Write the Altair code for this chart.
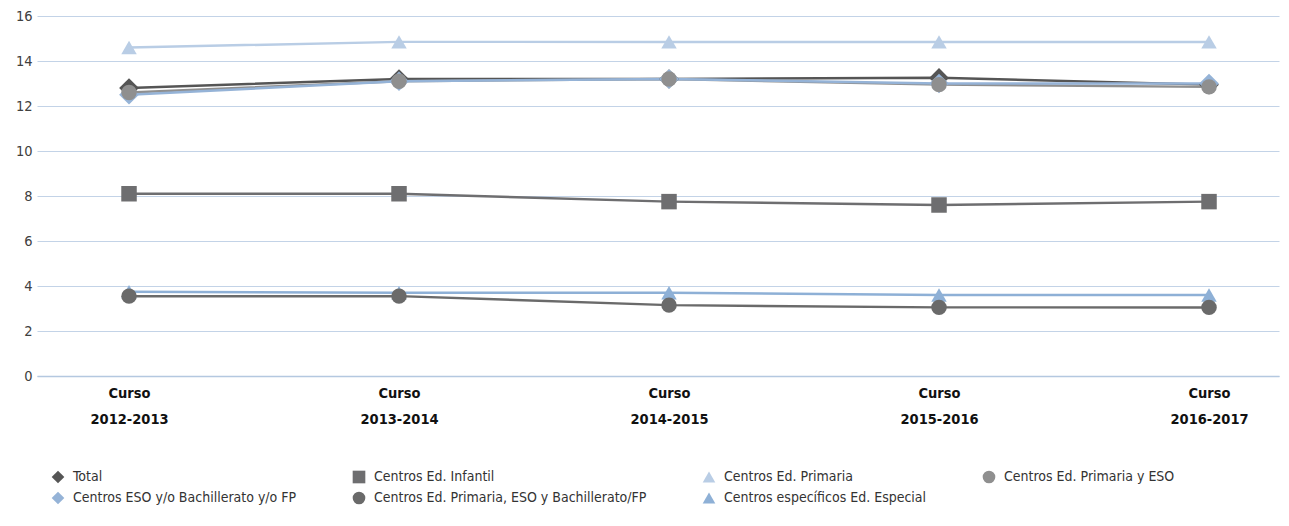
import altair as alt
import pandas as pd

cursos = ["Curso 2012-2013", "Curso 2013-2014", "Curso 2014-2015", "Curso 2015-2016", "Curso 2016-2017"]

series_names = [
    "Total",
    "Centros Ed. Infantil",
    "Centros Ed. Primaria",
    "Centros Ed. Primaria y ESO",
    "Centros ESO y/o Bachillerato y/o FP",
    "Centros Ed. Primaria, ESO y Bachillerato/FP",
    "Centros específicos Ed. Especial",
]

total = [12.8, 13.2, 13.2, 13.25, 12.95]
infantil = [8.1, 8.1, 7.75, 7.6, 7.75]
primaria = [14.6, 14.85, 14.85, 14.85, 14.85]
primaria_eso = [12.6, 13.1, 13.2, 12.95, 12.85]
eso_bach_fp = [12.5, 13.1, 13.2, 13.0, 13.0]
primaria_eso_bach = [3.55, 3.55, 3.15, 3.05, 3.05]
especial = [3.75, 3.7, 3.7, 3.6, 3.6]

values = [total, infantil, primaria, primaria_eso, eso_bach_fp, primaria_eso_bach, especial]

colors = ["#555555", "#6E6E70", "#B9CDE5", "#8F8F8F", "#95B3D7", "#6A6A6A", "#8EB0D6"]
shapes = ["diamond", "square", "triangle-up", "circle", "diamond", "circle", "triangle-up"]
# drawing order of markers (later on top)
draw_order = [0, 1, 2, 4, 3, 6, 5]

rows = []
for i, (name, vals) in enumerate(zip(series_names, values)):
    for c, v in zip(cursos, vals):
        rows.append({"serie": name, "curso": c, "valor": v, "capa": draw_order[i],
                     "rombo": shapes[i] == "diamond"})
df = pd.DataFrame(rows)
df_points = df.sort_values("capa", kind="stable").reset_index(drop=True)

FONT = "DejaVu Sans Condensed, Roboto Condensed, Liberation Sans, Arial, sans-serif"

x = alt.X(
    "curso:N",
    sort=cursos,
    scale=alt.Scale(type="point", padding=0.3, align=0.568),
    axis=alt.Axis(
        title=None,
        labelExpr="['Curso', substring(datum.label, 6)]",
        labelAngle=0,
        labelFont=FONT,
        labelFontSize=14.5,
        labelFontWeight="bold",
        labelColor="#111111",
        labelLineHeight=26,
        labelPadding=10,
        labelBaseline="top",
        ticks=False,
        domain=True,
        domainColor="#B4C8E0",
        domainWidth=1.5,
        grid=False,
    ),
)
y = alt.Y(
    "valor:Q",
    scale=alt.Scale(domain=[0, 16]),
    axis=alt.Axis(
        title=None,
        values=[0, 2, 4, 6, 8, 10, 12, 14, 16],
        labelFont=FONT,
        labelFontSize=14.5,
        labelColor="#404040",
        labelPadding=5,
        ticks=False,
        domain=False,
        grid=True,
        gridColor="#C3D3E7",
        gridWidth=1,
    ),
)

color_scale = alt.Scale(domain=series_names, range=colors)
shape_scale = alt.Scale(domain=series_names, range=shapes)
legend = alt.Legend(
    title=None,
    orient="none",
    direction="horizontal",
    legendX=14,
    legendY=454,
    columns=4,
    columnPadding=55,
    rowPadding=7,
    symbolSize=160,
    symbolStrokeWidth=0,
    labelFont=FONT,
    labelFontSize=14,
    labelColor="#333333",
    labelOffset=8,
    labelLimit=400,
)

color_enc = alt.Color("serie:N", scale=color_scale, sort=series_names, legend=legend)
shape_enc = alt.Shape("serie:N", scale=shape_scale, sort=series_names, legend=legend)

lines = alt.Chart(df).mark_line(strokeWidth=2.5).encode(
    x=x,
    y=y,
    color=color_enc,
    detail="serie:N",
)

base_points = alt.Chart(df_points).encode(x=x, y=y, color=color_enc, shape=shape_enc)

points_other = base_points.mark_point(filled=True, opacity=1, size=240).transform_filter(
    "!datum.rombo"
)
points_diamond = base_points.mark_point(filled=True, opacity=1, size=390).transform_filter(
    "datum.rombo"
)

chart = alt.layer(lines, points_diamond, points_other).properties(
    width=1242,
    height=360,
    autosize=alt.AutoSizeParams(type="none"),
    padding={"left": 29, "top": 8, "right": 2, "bottom": 142},
).configure_view(stroke=None)

chart.save("out.html", embed_options={"renderer": "svg", "actions": False})
